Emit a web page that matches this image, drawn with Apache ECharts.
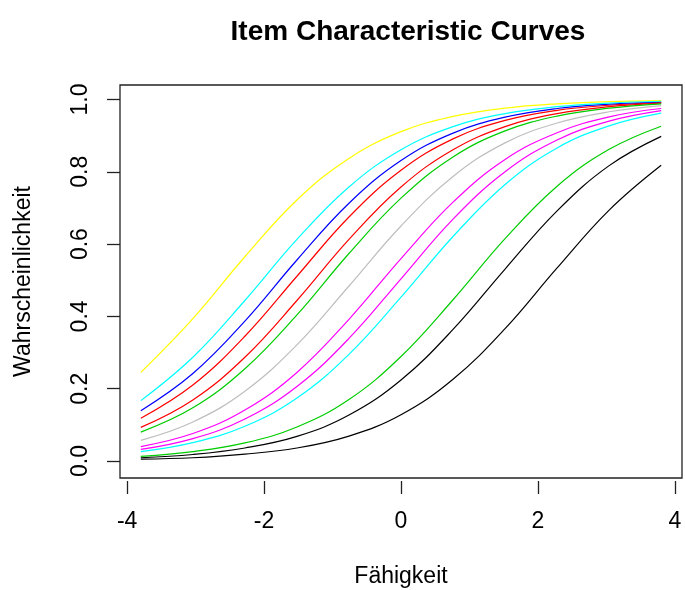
<!DOCTYPE html>
<html>
<head>
<meta charset="utf-8">
<title>Item Characteristic Curves</title>
<script src="https://cdn.jsdelivr.net/npm/echarts@6.0.0/dist/echarts.min.js"></script>
<style>
  html, body { margin: 0; padding: 0; background: #fff; }
  #chart { width: 685px; height: 590px; }
</style>
</head>
<body>
<div id="chart"></div>
<script>
const theta = [-3.8, -3.04, -2.28, -1.52, -0.76, 0, 0.76, 1.52, 2.28, 3.04, 3.8]

// Lösungswahrscheinlichkeiten je Item
const itemBlack2  = [0.005, 0.009, 0.019, 0.036, 0.069, 0.128, 0.226, 0.366, 0.534, 0.694, 0.818]
const itemRed1    = [0.118, 0.210, 0.345, 0.511, 0.675, 0.804, 0.891, 0.942, 0.970, 0.984, 0.992]
const itemGreen2  = [0.013, 0.026, 0.050, 0.094, 0.170, 0.289, 0.446, 0.615, 0.760, 0.862, 0.926]
const itemYellow  = [0.245, 0.394, 0.565, 0.722, 0.837, 0.911, 0.953, 0.976, 0.988, 0.994, 0.997]
const itemBlue    = [0.139, 0.242, 0.387, 0.556, 0.713, 0.831, 0.907, 0.951, 0.975, 0.987, 0.993]
const itemCyan1   = [0.167, 0.287, 0.444, 0.613, 0.758, 0.861, 0.925, 0.961, 0.980, 0.990, 0.995]
const itemMagenta1 = [0.040, 0.076, 0.141, 0.245, 0.392, 0.560, 0.716, 0.834, 0.908, 0.952, 0.975]
const itemGray    = [0.057, 0.108, 0.193, 0.321, 0.484, 0.650, 0.787, 0.880, 0.935, 0.966, 0.983]
const itemBlack1  = [0.009, 0.018, 0.036, 0.068, 0.127, 0.224, 0.364, 0.531, 0.692, 0.817, 0.898]
const itemRed2    = [0.093, 0.169, 0.287, 0.444, 0.613, 0.758, 0.861, 0.925, 0.961, 0.980, 0.990]
const itemGreen1  = [0.080, 0.147, 0.255, 0.404, 0.574, 0.727, 0.841, 0.913, 0.954, 0.976, 0.988]
const itemMagenta2 = [0.032, 0.062, 0.116, 0.206, 0.339, 0.504, 0.669, 0.800, 0.888, 0.940, 0.969]
const itemCyan2   = [0.026, 0.051, 0.096, 0.174, 0.295, 0.453, 0.621, 0.765, 0.866, 0.927, 0.962]

const xTicks = [-4, -2, 0, 2, 4]
const yTicks = [0, 0.2, 0.4, 0.6, 0.8, 1]

const items = [
  { name: 'Item 1', color: '#000000', values: itemBlack2 },
  { name: 'Item 2', color: '#FF0000', values: itemRed1 },
  { name: 'Item 3', color: '#00CD00', values: itemGreen2 },
  { name: 'Item 4', color: '#FFFF00', values: itemYellow },
  { name: 'Item 5', color: '#0000FF', values: itemBlue },
  { name: 'Item 6', color: '#00FFFF', values: itemCyan1 },
  { name: 'Item 7', color: '#FF00FF', values: itemMagenta1 },
  { name: 'Item 8', color: '#BEBEBE', values: itemGray },
  { name: 'Item 9', color: '#000000', values: itemBlack1 },
  { name: 'Item 10', color: '#FF0000', values: itemRed2 },
  { name: 'Item 11', color: '#00CD00', values: itemGreen1 },
  { name: 'Item 12', color: '#FF00FF', values: itemMagenta2 },
  { name: 'Item 13', color: '#00FFFF', values: itemCyan2 }
]

const font = 'Liberation Sans, Arial, Helvetica, sans-serif'

const chart = echarts.init(document.getElementById('chart'), null, { renderer: 'canvas' })

chart.setOption({
  animation: false,
  backgroundColor: '#fff',
  title: {
    text: 'Item Characteristic Curves',
    left: 403,
    top: 13,
    textAlign: 'center',
    textStyle: { fontFamily: font, fontSize: 28, fontWeight: 'bold', color: '#000' }
  },
  grid: {
    left: 120,
    top: 85,
    width: 562,
    height: 393,
    outerBoundsMode: 'none',
    show: true,
    borderColor: '#222',
    borderWidth: 1.3,
    backgroundColor: 'transparent'
  },
  xAxis: {
    type: 'value',
    min: -4.104,
    max: 4.104,
    offset: 3,
    name: 'Fähigkeit',
    nameLocation: 'middle',
    nameGap: 84,
    nameTextStyle: { fontFamily: font, fontSize: 23, color: '#000' },
    axisLine: { show: false, onZero: false },
    splitLine: { show: false },
    axisTick: {
      show: true,
      length: 13,
      customValues: xTicks,
      lineStyle: { color: '#222', width: 1.3 }
    },
    axisLabel: {
      customValues: xTicks,
      margin: 29,
      fontFamily: font,
      fontSize: 23,
      color: '#000'
    }
  },
  yAxis: {
    type: 'value',
    min: -0.047,
    max: 1.04,
    name: 'Wahrscheinlichkeit',
    nameLocation: 'middle',
    nameGap: 85,
    nameRotate: 90,
    nameTextStyle: { fontFamily: font, fontSize: 23, color: '#000' },
    axisLine: { show: false, onZero: false },
    splitLine: { show: false },
    axisTick: {
      show: true,
      length: 13,
      customValues: yTicks,
      lineStyle: { color: '#222', width: 1.3 }
    },
    axisLabel: {
      customValues: yTicks,
      rotate: 90,
      margin: 28,
      fontFamily: font,
      fontSize: 23,
      color: '#000',
      formatter: v => v.toFixed(1)
    }
  },
  series: items.map(it => ({
    name: it.name,
    type: 'line',
    data: theta.map((x, i) => [x, it.values[i]]),
    smooth: 0.4,
    showSymbol: false,
    lineStyle: { color: it.color, width: 1.2 },
    itemStyle: { color: it.color }
  }))
})
</script>
</body>
</html>
